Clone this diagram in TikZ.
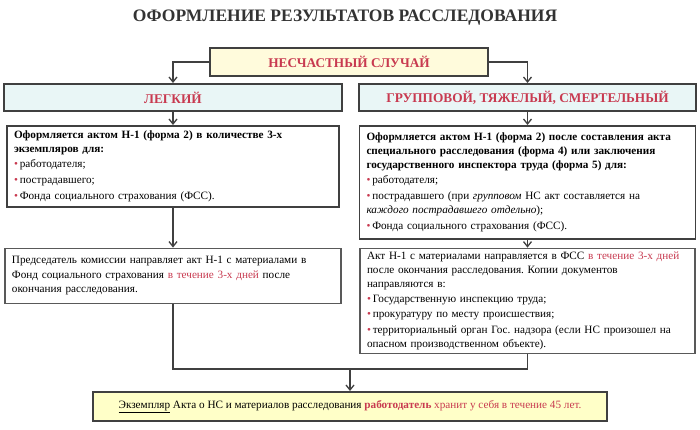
\documentclass[tikz,border=0pt]{standalone}
\usepackage{fontspec}
\setmainfont{Liberation Serif}
\usepackage{xcolor}
\usepackage{tikz}
\usetikzlibrary{arrows.meta,positioning,shadows}
\definecolor{NSred}{HTML}{C83A50}
\definecolor{NSframe}{HTML}{404040}
\definecolor{NSyellow}{HTML}{FFFBDC}
\definecolor{NScyan}{HTML}{E9F6F6}
\definecolor{NSkeep}{HTML}{FFFFC8}
\newcommand\nsbul{{\color{NSred}\textbullet}\,}
\frenchspacing
\tikzset{
  ns/title/.style={font=\bfseries\fontsize{17.5}{20}\selectfont, text=black!80, inner sep=0pt},
  ns/head/.style={draw=NSframe, line width=2pt, fill=NSyellow, text=NSred, font=\bfseries\fontsize{13.3}{15}\selectfont,
    minimum height=28pt, drop shadow={shadow xshift=1pt, shadow yshift=-1pt, fill=black!30}},
  ns/cat/.style={ns/head, fill=NScyan, minimum height=27pt},
  ns/box/.style={draw=NSframe, line width=1.6pt, fill=white, align=left, inner xsep=7pt, inner ysep=2pt,
    font=\fontsize{11.2}{14.2}\selectfont},
  ns/thin/.style={ns/box, draw=black!65, line width=1.1pt},
  ns/keep/.style={ns/head, fill=NSkeep, text=black, font=\fontsize{11.2}{13}\selectfont, minimum height=29pt},
  ns/line/.style={draw=black!75, line width=1.3pt},
  ns/arr/.style={ns/line, -{Straight Barb[length=5pt,width=8pt]}}
}

\begin{document}
\begin{tikzpicture}[x=1pt, y=1pt, node distance=13pt and 15pt]
  \useasboundingbox (0,0) rectangle (700,-429);
  \node[ns/title] (title) at (345,-18) {ОФОРМЛЕНИЕ РЕЗУЛЬТАТОВ РАССЛЕДОВАНИЯ};
  \node[ns/head, minimum width=278pt] (ns) at (349,-62) {НЕСЧАСТНЫЙ СЛУЧАЙ};
  \node[ns/cat, minimum width=338pt] (light) at (173,-97.5) {ЛЕГКИЙ};
  \node[ns/cat, minimum width=337pt, right=of light] (heavy) {ГРУППОВОЙ, ТЯЖЕЛЫЙ, СМЕРТЕЛЬНЫЙ};
  \node[ns/box, text width=318pt, minimum height=81pt, below=of light] (lact) {%
    \textbf{Оформляется актом Н-1 (форма 2) в количестве 3-х}\\
    \textbf{экземпляров для:}\\[1pt]
    \nsbul работодателя;\\[1.5pt]
    \nsbul пострадавшего;\\[1.5pt]
    \nsbul Фонда социального страхования (ФСС).};
  \node[ns/box, text width=322pt, minimum height=113pt, below=of heavy] (hact) {%
    \textbf{Оформляется актом Н-1 (форма 2) после составления акта}\\
    \textbf{специального расследования (форма 4) или заключения}\\
    \textbf{государственного инспектора труда (форма 5) для:}\\[1pt]
    \nsbul работодателя;\\[1.5pt]
    \nsbul пострадавшего (при \textit{групповом} НС акт составляется на\\
    \textit{каждого пострадавшего отдельно});\\[1.5pt]
    \nsbul Фонда социального страхования (ФСС).};
  \node[ns/thin, text width=322pt, minimum height=55pt, below=40pt of lact] (lsend) {%
    Председатель комиссии направляет акт Н-1 с материалами в\\
    Фонд социального страхования \textcolor{NSred}{в течение 3-х дней} после\\
    окончания расследования.};
  \node[ns/thin, text width=321pt, minimum height=105pt, below=8pt of hact] (hsend) {%
    Акт Н-1 с материалами направляется в ФСС \textcolor{NSred}{в течение 3-х дней}\\
    после окончания расследования. Копии документов\\
    направляются в:\\[1pt]
    \nsbul Государственную инспекцию труда;\\[1pt]
    \nsbul прокуратуру по месту происшествия;\\[1pt]
    \nsbul территориальный орган Гос. надзора (если НС произошел на\\
    опасном производственном объекте).};
  \node[ns/keep, minimum width=514pt] (keep) at (350,-406.5) {\underline{Экземпляр} Акта о НС и материалов расследования
    \textcolor{NSred}{\textbf{работодатель} хранит у себя в течение 45 лет.}};
  \coordinate (join) at (350,-369);
  \draw[ns/arr] (ns.west) -| (light.north);
  \draw[ns/arr] (ns.east) -| (heavy.north);
  \draw[ns/arr] (light) -- (lact);
  \draw[ns/arr] (heavy) -- (hact);
  \draw[ns/arr] (lact) -- (lsend);
  \draw[ns/arr] (hact) -- (hsend);
  \draw[ns/line] (lsend.south) |- (join);
  \draw[ns/line] (hsend.south) |- (join);
  \draw[ns/arr] (join) -- (keep);
\end{tikzpicture}
\end{document}
